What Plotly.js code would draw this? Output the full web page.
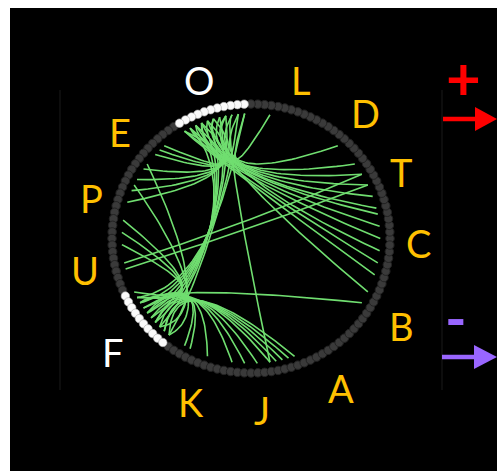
<!DOCTYPE html>
<html><head><meta charset="utf-8">
<script src="https://cdn.plot.ly/plotly-3.0.1.min.js"></script>
<style>html,body{margin:0;padding:0;background:#fff}#chart{width:497px;height:471px}</style>
</head><body><div id="chart"></div>
<script>
// ---------- DATA ----------
const nodeCount = 128;                       // nodes around the ring
const topGroup = [33,34,35,36,37,38,39,40,41,42,43];   // highlighted (white) near "O"
const fGroup = [73,74,75,76,77,78,79,80,81,82];        // highlighted (white) near "F"
const edgeFrom = [33,34,35,36,37,38,39,40,41,42,43, 40,36,38,
                  43,42,41,40,39,38,43,
                  35, 33,36,39,42,34,37,40,41,
                  73,74,75,76,77,78,79,80,81,82,75,77,74,79,81,80,82,
                  68,69];
const edgeTo   = [29,17,11, 9, 7, 5, 4, 2, 0,124,122, 13,126,119,
                  47,48,49,52,54,56,58,
                  99, 74,76,78,80,82,75,77,79,
                  61,63,85,86,89,93,97,101,102,103,117,99,65,95,100,51,55,
                  11, 9];
const ringLabels = ['O','L','D','T','C','B','A','J','K','F','U','P','E'];
const signLabels = ['+','-'];

// ---------- LAYOUT HELPERS ----------
const W = 497, H = 471, ML = 10, MT = 8;
const cx = 251, cy = 238.5, rx = 139, ry = 134.5;
const px2x = p => (p - cx) / rx;
const py2y = p => (cy - p) / ry;
const hubTop = [px2x(232), py2y(170)];
const hubF = [px2x(195), py2y(290)];
const endR = 0.93;
const pull = 0.6;

function nodePos(i, r) {
  const a = i * 2 * Math.PI / nodeCount;
  return [r * Math.cos(a), r * Math.sin(a)];
}
function hubOf(i) {
  if (topGroup.includes(i)) return hubTop;
  if (fGroup.includes(i)) return hubF;
  return null;
}
const add = (a, b, t) => [a[0] + b[0]*t, a[1] + b[1]*t];
const sub = (a, b) => [a[0]-b[0], a[1]-b[1]];
function bez(pts, t) {
  let p = pts.map(q => q.slice());
  while (p.length > 1) {
    const n = [];
    for (let i = 0; i < p.length - 1; i++) n.push([p[i][0]*(1-t) + p[i+1][0]*t, p[i][1]*(1-t) + p[i+1][1]*t]);
    p = n;
  }
  return p[0];
}

const lx = [], ly = [];
for (let k = 0; k < edgeFrom.length; k++) {
  let a = edgeFrom[k], b = edgeTo[k];
  if (!hubOf(a) && hubOf(b)) { const t = a; a = b; b = t; }
  const p0 = nodePos(a, endR), p3 = nodePos(b, endR);
  const ha = hubOf(a), hb = hubOf(b);
  const mid = [(p0[0]+p3[0])/2, (p0[1]+p3[1])/2];
  let pts;
  if (ha && hb) {
    pts = [p0, add(ha, sub(ha, p0), 0.2), add(hb, sub(hb, p3), 0.2), p3];
  } else if (ha) {
    pts = [p0, add(ha, sub(ha, mid), pull), p3];
  } else {
    pts = [p0, [mid[0]*0.7, mid[1]*0.7], p3];
  }
  for (let s = 0; s <= 48; s++) {
    const q = bez(pts, s / 48);
    lx.push(q[0]); ly.push(q[1]);
  }
  lx.push(null); ly.push(null);
}

const gx = [], gy = [], wx = [], wy = [];
for (let i = 0; i < nodeCount; i++) {
  const p = nodePos(i, 1);
  if (hubOf(i)) { wx.push(p[0]); wy.push(p[1]); } else { gx.push(p[0]); gy.push(p[1]); }
}

const traces = [
  {x: lx, y: ly, mode: 'lines', type: 'scatter', hoverinfo: 'skip',
   line: {color: 'rgb(112,222,112)', width: 1.6}},
  {x: gx, y: gy, mode: 'markers', type: 'scatter', hoverinfo: 'skip',
   marker: {size: 8.5, color: '#3a3a3a', line: {color: '#222', width: 1}}},
  {x: wx, y: wy, mode: 'markers', type: 'scatter', hoverinfo: 'skip',
   marker: {size: 8.5, color: '#fafafa', line: {color: '#aaa', width: 0.6}}}
];

// label placement (pixels) and colours
const labelPx = {O:[199,80], L:[301,80], D:[365,113], T:[401,172], C:[418,243], B:[401,326],
                 A:[341,388], J:[262,410], K:[191,402], F:[113,352], U:[85,270], P:[91,198], E:[120,132]};
const yellow = '#FFC000';
const annotations = ringLabels.map(t => ({
  x: px2x(labelPx[t][0]), y: py2y(labelPx[t][1]), xref: 'x', yref: 'y', text: t, showarrow: false,
  font: {family: 'Lato, Open Sans, sans-serif', size: 38, color: (t === 'O' || t === 'F') ? '#ffffff' : yellow},
  xanchor: 'center', yanchor: 'middle'
}));
annotations.push({x: px2x(463), y: py2y(77), xref: 'x', yref: 'y', text: '<b>' + signLabels[0] + '</b>', showarrow: false,
  font: {family: 'Lato, sans-serif', size: 60, color: '#ff0000'}, xanchor: 'center', yanchor: 'middle'});
annotations.push({x: px2x(456), y: py2y(316), xref: 'x', yref: 'y', text: '<b>' + signLabels[1] + '</b>', showarrow: false,
  font: {family: 'Lato, sans-serif', size: 58, color: '#9966ff'}, xanchor: 'center', yanchor: 'middle'});

const shapes = [
  {type: 'line', xref: 'x', yref: 'y', x0: px2x(60), x1: px2x(60), y0: py2y(90), y1: py2y(390), line: {color: '#1a1a1a', width: 1}},
  {type: 'line', xref: 'x', yref: 'y', x0: px2x(442), x1: px2x(442), y0: py2y(90), y1: py2y(390), line: {color: '#1a1a1a', width: 1}},
  {type: 'line', xref: 'x', yref: 'y', x0: px2x(443), x1: px2x(478), y0: py2y(119), y1: py2y(119), line: {color: '#ff0000', width: 4.5}},
  {type: 'path', xref: 'x', yref: 'y', fillcolor: '#ff0000', line: {width: 0},
   path: `M ${px2x(475)} ${py2y(107)} L ${px2x(497)} ${py2y(119)} L ${px2x(475)} ${py2y(131)} Z`},
  {type: 'line', xref: 'x', yref: 'y', x0: px2x(442), x1: px2x(477), y0: py2y(357), y1: py2y(357), line: {color: '#9966ff', width: 4.5}},
  {type: 'path', xref: 'x', yref: 'y', fillcolor: '#9966ff', line: {width: 0},
   path: `M ${px2x(474)} ${py2y(345)} L ${px2x(497)} ${py2y(357)} L ${px2x(474)} ${py2y(369)} Z`}
];

const layout = {
  width: W, height: H,
  margin: {l: ML, t: MT, r: 0, b: 0, pad: 0},
  paper_bgcolor: '#ffffff', plot_bgcolor: '#000000',
  showlegend: false,
  xaxis: {range: [px2x(ML), px2x(W)], visible: false, fixedrange: true},
  yaxis: {range: [py2y(H), py2y(MT)], visible: false, fixedrange: true},
  annotations: annotations, shapes: shapes
};
Plotly.newPlot('chart', traces, layout, {displayModeBar: false, staticPlot: true});
</script></body></html>
